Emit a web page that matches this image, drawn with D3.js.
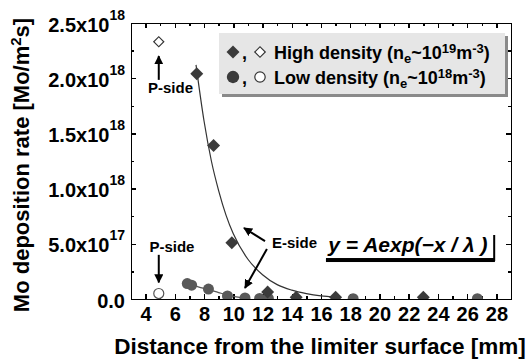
<!DOCTYPE html>
<meta charset="utf-8">
<style>
body { margin: 0; background: #fff; }
svg { font-family: "Liberation Sans", Arial, sans-serif; font-weight: bold; }
.axis path, .axis line {
  fill: none;
  stroke: #000;
  stroke-width: 1.5px;
  shape-rendering: crispEdges;
}
.axis text { font-size: 20px; font-weight: bold; fill: #000; font-family: "Liberation Sans", Arial, sans-serif; }
</style>
<body>
<svg width="526" height="359"></svg>
<script src="https://d3js.org/d3.v7.min.js"></script>
<script>
// high density (filled diamonds)
var highX = [7.5, 8.65, 9.9, 12.35, 14.3, 17.0, 23.0];
var highY = [2.04e18, 1.39e18, 0.51e18, 0.063e18, 0.015e18, 0.015e18, 0.015e18];
// low density (filled circles)
var lowX = [6.85, 7.15, 8.3, 9.6, 10.8, 11.8, 12.4, 18.2, 26.7];
var lowY = [0.14e18, 0.125e18, 0.09e18, 0.028e18, 0.01e18, 0.005e18, 0.006e18, 0.003e18, 0.003e18];
// P-side (open symbols)
var pHighX = [4.9], pHighY = [2.33e18];
var pLowX = [4.9], pLowY = [0.05e18];
// fitted curves
var fitHighX = [7.45, 8.0, 8.5, 9.0, 9.5, 10.0, 11.0, 12.0, 13.0, 14.0, 15.0, 16.0, 17.0];
var fitHighY = [2.12e18, 1.61e18, 1.25e18, 0.98e18, 0.76e18, 0.59e18, 0.36e18, 0.22e18, 0.13e18, 0.08e18, 0.049e18, 0.029e18, 0.018e18];
var fitLowX = [6.9, 7.6, 8.3, 9.0, 9.6, 10.2, 10.8];
var fitLowY = [0.14e18, 0.11e18, 0.085e18, 0.058e18, 0.036e18, 0.02e18, 0.01e18];
// ticks
var xTicks = [4, 6, 8, 10, 12, 14, 16, 18, 20, 22, 24, 26, 28];
var xMinor = [3, 5, 7, 9, 11, 13, 15, 17, 19, 21, 23, 25, 27, 29];
var yTicks = [0, 0.5e18, 1.0e18, 1.5e18, 2.0e18, 2.5e18];
var yMinor = [0.25e18, 0.75e18, 1.25e18, 1.75e18, 2.25e18];
var yTickLabels = ["0.0", "5.0x10", "1.0x10", "1.5x10", "2.0x10", "2.5x10"];
var yTickExp = ["", "17", "18", "18", "18", "18"];

var svg = d3.select("svg"),
    margin = {top: 23, right: 15, bottom: 60, left: 131},
    width = +svg.attr("width") - margin.left - margin.right,
    height = +svg.attr("height") - margin.top - margin.bottom;

var x = d3.scaleLinear().domain([3, 29]).range([0, width]);
var y = d3.scaleLinear().domain([0, 2.5e18]).range([height, 0]);

var defs = svg.append("defs");
defs.append("clipPath").attr("id", "plot")
  .append("rect").attr("width", width).attr("height", height);
defs.append("marker")
    .attr("id", "arrow")
    .attr("viewBox", "0 0 10 10")
    .attr("refX", 9).attr("refY", 5)
    .attr("markerWidth", 9).attr("markerHeight", 9)
    .attr("markerUnits", "userSpaceOnUse")
    .attr("orient", "auto")
  .append("path").attr("d", "M0,0L10,5L0,10Z").attr("fill", "#000");

var g = svg.append("g")
    .attr("transform", "translate(" + margin.left + "," + margin.top + ")");

// axes
g.append("g").attr("class", "axis")
    .attr("transform", "translate(0," + height + ")")
    .call(d3.axisBottom(x).tickValues(xTicks).tickSizeInner(-5).tickSizeOuter(0).tickPadding(8).tickFormat(d3.format("d")));
g.append("g").attr("class", "axis")
    .attr("transform", "translate(0," + height + ")")
    .call(d3.axisBottom(x).tickValues(xMinor).tickSize(-3).tickFormat(""))
    .call(function(a) { a.select(".domain").remove(); });
g.append("g").attr("class", "axis")
    .call(d3.axisTop(x).tickValues(xTicks).tickSizeInner(-5).tickSizeOuter(0).tickFormat(""));
g.append("g").attr("class", "axis")
    .call(d3.axisTop(x).tickValues(xMinor).tickSize(-3).tickFormat(""))
    .call(function(a) { a.select(".domain").remove(); });

var yAxis = g.append("g").attr("class", "axis")
    .call(d3.axisLeft(y).tickValues(yTicks).tickSizeInner(-5).tickSizeOuter(0).tickPadding(6)
      .tickFormat(function(d, i) { return yTickLabels[i]; }));
yAxis.selectAll(".tick text")
    .attr("dy", "8px")
    .each(function(d, i) {
      if (yTickExp[i]) {
        d3.select(this).append("tspan")
          .attr("dy", "-12px")
          .style("font-size", "14px")
          .text(yTickExp[i]);
      }
    });
g.append("g").attr("class", "axis")
    .call(d3.axisLeft(y).tickValues(yMinor).tickSize(-3).tickFormat(""))
    .call(function(a) { a.select(".domain").remove(); });
g.append("g").attr("class", "axis")
    .attr("transform", "translate(" + width + ",0)")
    .call(d3.axisRight(y).tickValues(yTicks).tickSizeInner(-5).tickSizeOuter(0).tickFormat(""));
g.append("g").attr("class", "axis")
    .attr("transform", "translate(" + width + ",0)")
    .call(d3.axisRight(y).tickValues(yMinor).tickSize(-3).tickFormat(""))
    .call(function(a) { a.select(".domain").remove(); });

// titles
svg.append("text")
    .attr("x", 320).attr("y", 354)
    .attr("text-anchor", "middle")
    .style("font-size", "22.5px")
    .text("Distance from the limiter surface [mm]");
var yt = svg.append("text")
    .attr("transform", "translate(29,165) rotate(-90)")
    .attr("text-anchor", "middle")
    .style("font-size", "22px")
    .text("Mo deposition rate [Mo/m");
yt.append("tspan").attr("dy", "-8px").style("font-size", "15px").text("2");
yt.append("tspan").attr("dy", "8px").text("s]");

// data
var plot = g.append("g").attr("clip-path", "url(#plot)");
var line = d3.line().curve(d3.curveMonotoneX);

plot.append("path")
    .datum(fitHighX.map(function(v, i) { return [x(v), y(fitHighY[i])]; }))
    .attr("d", line).attr("fill", "none").attr("stroke", "#333").attr("stroke-width", 1.2);
plot.append("path")
    .datum(fitLowX.map(function(v, i) { return [x(v), y(fitLowY[i])]; }))
    .attr("d", line).attr("fill", "none").attr("stroke", "#555").attr("stroke-width", 1.2);

var diamond = d3.symbol().type(d3.symbolSquare).size(84);

plot.selectAll(".low")
    .data(lowX)
  .enter().append("circle")
    .attr("cx", function(d) { return x(d); })
    .attr("cy", function(d, i) { return y(lowY[i]); })
    .attr("r", 5.5)
    .attr("fill", "#595959");

plot.selectAll(".high")
    .data(highX)
  .enter().append("path")
    .attr("d", diamond)
    .attr("transform", function(d, i) { return "translate(" + x(d) + "," + y(highY[i]) + ") rotate(45)"; })
    .attr("fill", "#3b3b3b");

plot.selectAll(".phigh")
    .data(pHighX)
  .enter().append("path")
    .attr("d", d3.symbol().type(d3.symbolSquare).size(50))
    .attr("transform", function(d, i) { return "translate(" + x(d) + "," + y(pHighY[i]) + ") rotate(45)"; })
    .attr("fill", "#fff").attr("stroke", "#333").attr("stroke-width", 1.2);

plot.selectAll(".plow")
    .data(pLowX)
  .enter().append("circle")
    .attr("cx", function(d) { return x(d); })
    .attr("cy", function(d, i) { return y(pLowY[i]); })
    .attr("r", 5)
    .attr("fill", "#fff").attr("stroke", "#555").attr("stroke-width", 1.2);

// annotations
function arrow(x1, y1, x2, y2) {
  g.append("line")
      .attr("x1", x(x1)).attr("y1", y(y1))
      .attr("x2", x(x2)).attr("y2", y(y2))
      .attr("stroke", "#000").attr("stroke-width", 2)
      .attr("marker-end", "url(#arrow)");
}
function label(t, xv, yv, anchor) {
  g.append("text")
      .attr("x", x(xv)).attr("y", y(yv))
      .attr("text-anchor", anchor)
      .style("font-size", "15px")
      .text(t);
}
label("P-side", 5.7, 1.866e18, "middle");
arrow(4.9, 1.985e18, 4.9, 2.2e18);
label("P-side", 5.8, 0.426e18, "middle");
arrow(4.9, 0.40e18, 4.9, 0.15e18);
label("E-side", 12.65, 0.462e18, "start");
arrow(12.17, 0.525e18, 10.73, 0.643e18);
arrow(12.3, 0.453e18, 10.8, 0.10e18);

// fit equation
g.append("text")
    .attr("x", x(16.5)).attr("y", y(0.426e18))
    .style("font-size", "21px").style("font-style", "italic")
    .text("y = Aexp(\u2212x / \u03bb )");
g.append("path")
    .attr("d", "M" + x(16.34) + "," + y(0.353e18) + "H" + x(27.85) + "V" + y(0.58e18))
    .attr("fill", "none").attr("stroke", "#000").attr("stroke-width", 2);
g.append("rect")
    .attr("x", x(16.34)).attr("y", y(0.353e18) - 2)
    .attr("width", x(27.9) - x(16.34)).attr("height", 4)
    .attr("fill", "#000");

// legend
var lg = svg.append("g").attr("transform", "translate(219,33)");
lg.append("rect").attr("x", 3).attr("y", 3).attr("width", 286).attr("height", 61).attr("fill", "#8a8a8a");
lg.append("rect").attr("width", 286).attr("height", 61).attr("fill", "#e6e6e6");

function legendRow(yc, filled, open, rot, parts) {
  lg.append("path").attr("d", filled).attr("fill", "#3b3b3b")
    .attr("transform", "translate(14," + yc + ") rotate(" + rot + ")");
  lg.append("text").attr("x", 23).attr("y", yc + 7).style("font-size", "18px").text(",");
  lg.append("path").attr("d", open).attr("fill", "#fff").attr("stroke", "#333").attr("stroke-width", 1.2)
    .attr("transform", "translate(41," + yc + ") rotate(" + rot + ")");
  var t = lg.append("text").attr("x", 55).attr("y", yc + 7).style("font-size", "18px");
  parts.forEach(function(p) {
    t.append("tspan").attr("dy", p[1] + "px").style("font-size", p[2] + "px").text(p[0]);
  });
}
legendRow(19, diamond(), d3.symbol().type(d3.symbolSquare).size(55)(), 45, [
  ["High density (n", 0, 18], ["e", 4, 13], ["~10", -4, 18], ["19", -6, 13], ["m", 6, 18], ["-3", -6, 13], [")", 6, 18]
]);
legendRow(44, d3.symbol().type(d3.symbolCircle).size(120)(), d3.symbol().type(d3.symbolCircle).size(85)(), 0, [
  ["Low density (n", 0, 18], ["e", 4, 13], ["~10", -4, 18], ["18", -6, 13], ["m", 6, 18], ["-3", -6, 13], [")", 6, 18]
]);
</script>
</body>
</html>
